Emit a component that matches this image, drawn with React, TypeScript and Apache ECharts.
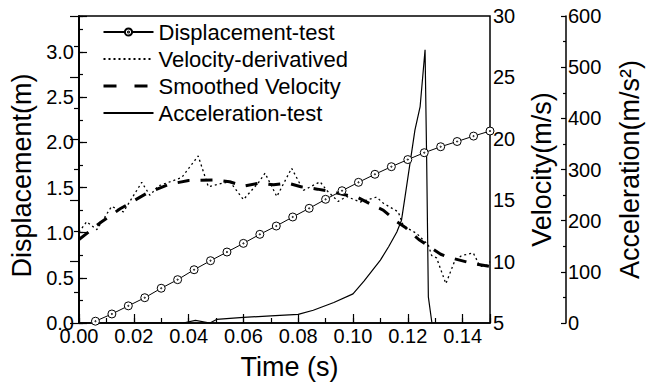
import React, { useEffect, useRef } from 'react';
import * as echarts from 'echarts';

const dispTime = [0.006, 0.012, 0.018, 0.024, 0.030, 0.036, 0.042, 0.048, 0.054, 0.060, 0.066, 0.072, 0.078, 0.084, 0.090, 0.096, 0.102, 0.108, 0.114, 0.120, 0.126, 0.132, 0.138, 0.144, 0.150];
const dispValues = [0.02, 0.10, 0.19, 0.28, 0.385, 0.48, 0.59, 0.69, 0.786, 0.882, 0.982, 1.074, 1.174, 1.27, 1.37, 1.465, 1.558, 1.647, 1.731, 1.81, 1.886, 1.952, 2.01, 2.07, 2.126];

const vdTime = [0, 0.0028, 0.0065, 0.0119, 0.0162, 0.0229, 0.0259, 0.0289, 0.0375, 0.0435, 0.0472, 0.0527, 0.0551, 0.060, 0.0654, 0.0679, 0.0722, 0.0776, 0.0819, 0.088, 0.0904, 0.0946, 0.0977, 0.1026, 0.1086, 0.1111, 0.1165, 0.1184, 0.1232, 0.1275, 0.1287, 0.1305, 0.1339, 0.1372, 0.1397, 0.1439, 0.1464, 0.1488, 0.15];
const vdValues = [12.4, 13.25, 12.6, 14.5, 14.05, 16.45, 15.4, 16.15, 16.85, 18.6, 16.1, 16.4, 16.5, 15.05, 16.4, 17.2, 15.3, 17.6, 15.8, 16.5, 15.8, 14.9, 15.3, 14.85, 15.25, 14.75, 14.05, 12.9, 12.3, 11.35, 10.5, 10.3, 8.2, 10.1, 10.5, 10.7, 9.6, 9.7, 10.0];

const smTime = [0, 0.008, 0.015, 0.025, 0.033, 0.04, 0.05, 0.055, 0.06, 0.066, 0.071, 0.076, 0.081, 0.087, 0.092, 0.097, 0.102, 0.108, 0.111, 0.116, 0.119, 0.124, 0.127, 0.132, 0.135, 0.1435, 0.15];
const smValues = [11.8, 13.2, 14.3, 15.6, 16.3, 16.6, 16.65, 16.5, 16.15, 16.4, 16.25, 16.4, 16.1, 15.9, 15.7, 15.45, 15.2, 14.5, 14.2, 13.25, 12.8, 11.8, 11.35, 10.6, 10.35, 9.85, 9.6];

const accTime = [0, 0.038, 0.0425, 0.0478, 0.0502, 0.06, 0.07, 0.08, 0.0855, 0.093, 0.1, 0.104, 0.11, 0.113, 0.116, 0.1177, 0.119, 0.1208, 0.1226, 0.1245, 0.1263, 0.1269, 0.1275, 0.1288];
const accValues = [0, 0, 5, 0, 7, 11, 14, 17, 25, 40, 57, 82, 123, 149, 178, 201, 247, 312, 377, 423, 534, 312, 51, 0];

const seriesNames = ['Displacement-test', 'Velocity-derivatived', 'Smoothed Velocity', 'Acceleration-test'];
const axisNames = ['Time (s)', 'Displacement(m)', 'Velocity(m/s)', 'Acceleration(m/s²)'];

const FONT = 'Liberation Sans';
const BLACK = '#000';

const zip = (xs: number[], ys: number[]) => xs.map((x, i) => [x, ys[i]]);

const circleDot = 'path://M10,0A10,10,0,1,1,-10,0A10,10,0,1,1,10,0ZM1.5,0A1.5,1.5,0,1,1,-1.5,0A1.5,1.5,0,1,1,1.5,0Z';

const isMultiple = (v: number, step: number) => Math.abs(v / step - Math.round(v / step)) < 1e-6;

const noSymbol = { color: 'transparent', borderColor: 'transparent', borderWidth: 0, opacity: 0 };

export default function App() {
  const ref = useRef<HTMLDivElement>(null);
  useEffect(() => {
    if (!ref.current) return;
    const chart = echarts.init(ref.current, undefined, { renderer: 'svg' });
    const lbl = { color: BLACK, fontFamily: FONT, fontSize: 20 };
    const axisLine = { show: true, lineStyle: { color: BLACK, width: 1.5 } };
    const option: any = {
      animation: false,
      backgroundColor: '#fff',
      grid: { left: 79, right: 166, top: 16, bottom: 64, show: true, borderColor: BLACK, borderWidth: 1.5, backgroundColor: 'transparent' },
      legend: {
        orient: 'vertical',
        left: 97,
        top: 16,
        itemWidth: 50,
        itemHeight: 9,
        itemGap: 5,
        textStyle: { color: BLACK, fontFamily: FONT, fontSize: 22 },
        data: [
          { name: seriesNames[0] },
          { name: seriesNames[1], itemStyle: noSymbol },
          { name: seriesNames[2], itemStyle: noSymbol, lineStyle: { type: [13, 18], width: 3, color: BLACK } },
          { name: seriesNames[3], itemStyle: noSymbol },
        ],
      },
      xAxis: [
        {
          type: 'value', min: 0, max: 0.15, interval: 0.02,
          axisLine,
          axisTick: { show: true, inside: true, length: 9, lineStyle: { color: BLACK, width: 1.2 } },
          axisLabel: { ...lbl, margin: 3, formatter: (v: number) => (isMultiple(v, 0.02) ? v.toFixed(2) : '') },
          splitLine: { show: false },
          name: axisNames[0], nameLocation: 'middle', nameGap: 30,
          nameTextStyle: { color: BLACK, fontFamily: FONT, fontSize: 27, padding: [0, 0, 0, 10] },
        },
        {
          type: 'value', min: 0, max: 0.15, interval: 0.01, position: 'bottom',
          axisLine: { show: false },
          axisTick: { show: true, inside: true, length: 5, lineStyle: { color: BLACK, width: 1.2 } },
          axisLabel: { show: false },
          splitLine: { show: false },
        },
      ],
      yAxis: [
        {
          type: 'value', position: 'left', min: 0, max: 3.4, interval: 0.5,
          axisLine,
          axisTick: { show: true, inside: true, length: 8, lineStyle: { color: BLACK, width: 1.2 } },
          axisLabel: { ...lbl, margin: 5, formatter: (v: number) => (isMultiple(v, 0.5) ? v.toFixed(1) : '') },
          splitLine: { show: false },
          name: axisNames[1], nameLocation: 'middle', nameRotate: 90, nameGap: 38,
          nameTextStyle: { color: BLACK, fontFamily: FONT, fontSize: 27, padding: [0, 12, 0, 0] },
        },
        {
          type: 'value', position: 'right', min: 5, max: 30, interval: 5,
          axisLine,
          axisTick: { show: true, inside: true, length: 9, lineStyle: { color: BLACK, width: 1.2 } },
          minorTick: { show: true, splitNumber: 2, length: 5, lineStyle: { color: BLACK, width: 1.2 } },
          axisLabel: { ...lbl, margin: 3 },
          splitLine: { show: false },
          name: axisNames[2], nameLocation: 'middle', nameRotate: 90, nameGap: 38,
          nameTextStyle: { color: BLACK, fontFamily: FONT, fontSize: 27 },
        },
        {
          type: 'value', position: 'right', offset: 76, min: 0, max: 600, interval: 100,
          axisLine,
          axisTick: { show: true, inside: true, length: 5, lineStyle: { color: BLACK, width: 1.2 } },
          minorTick: { show: true, splitNumber: 2, length: 3, lineStyle: { color: BLACK, width: 1.2 } },
          axisLabel: { ...lbl, margin: 2 },
          splitLine: { show: false },
          name: axisNames[3], nameLocation: 'middle', nameRotate: 90, nameGap: 50,
          nameTextStyle: { color: BLACK, fontFamily: FONT, fontSize: 27 },
        },
        {
          type: 'value', position: 'left', min: 0, max: 3.4, interval: 0.25,
          axisLine: { show: false },
          axisTick: { show: true, inside: true, length: 4, lineStyle: { color: BLACK, width: 1.2 } },
          axisLabel: { show: false },
          splitLine: { show: false },
        },
      ],
      series: [
        {
          name: seriesNames[0], type: 'line', xAxisIndex: 0, yAxisIndex: 0,
          data: zip(dispTime, dispValues),
          symbol: circleDot, symbolSize: 8, showSymbol: true,
          itemStyle: { color: '#fff', borderColor: BLACK, borderWidth: 1 },
          lineStyle: { color: BLACK, width: 1 },
          z: 3,
        },
        {
          name: seriesNames[1], type: 'line', xAxisIndex: 0, yAxisIndex: 1,
          data: zip(vdTime, vdValues), symbol: 'none',
          itemStyle: { color: BLACK },
          lineStyle: { color: BLACK, width: 1.3, type: [2, 3] },
        },
        {
          name: seriesNames[2], type: 'line', xAxisIndex: 0, yAxisIndex: 1,
          data: zip(smTime, smValues), symbol: 'none',
          itemStyle: { color: BLACK },
          lineStyle: { color: BLACK, width: 3, type: [12, 11] },
        },
        {
          name: seriesNames[3], type: 'line', xAxisIndex: 0, yAxisIndex: 2,
          data: zip(accTime, accValues), symbol: 'none',
          itemStyle: { color: BLACK },
          lineStyle: { color: BLACK, width: 1.2 },
        },
      ],
    };
    chart.setOption(option);
    return () => chart.dispose();
  }, []);
  return <div ref={ref} style={{ position: 'fixed', left: 0, top: 0, width: 656, height: 387 }} />;
}
